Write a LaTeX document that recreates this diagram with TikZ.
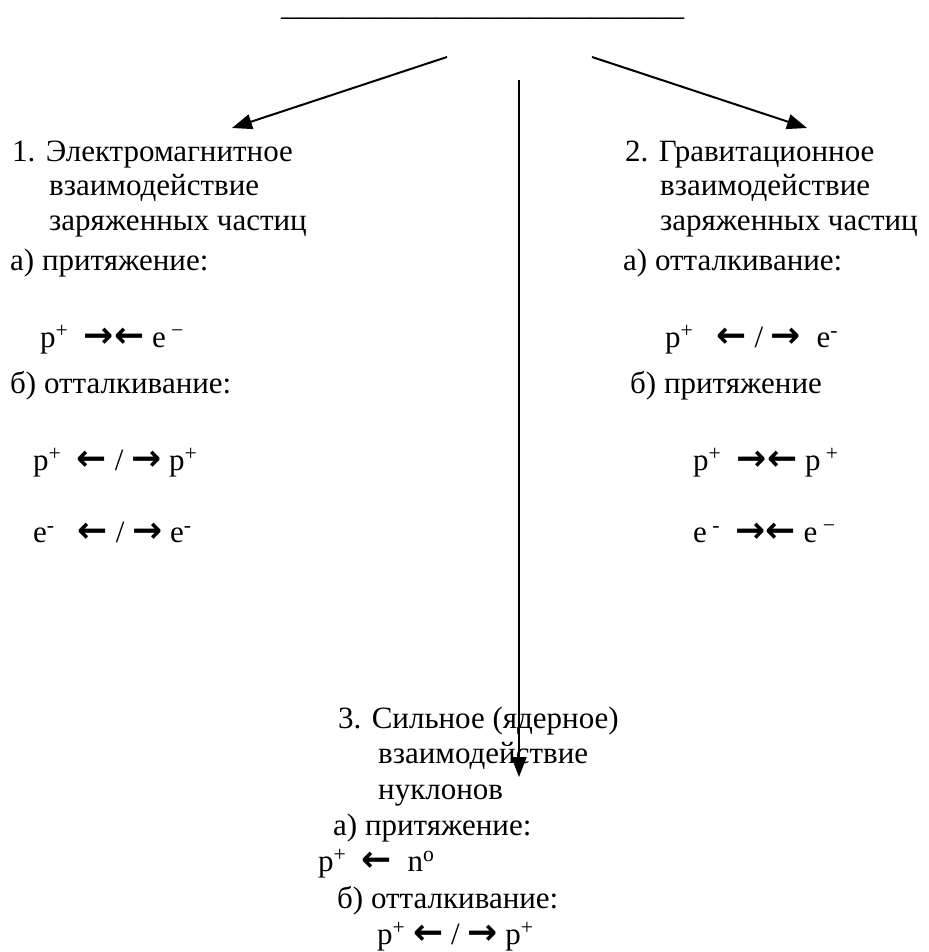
\documentclass[tikz,border=0pt]{standalone}
\usepackage{fontspec}
\setmainfont{Liberation Serif}
\newfontfamily\arrfont{DejaVu Sans}
\usetikzlibrary{arrows.meta}
\newcommand{\arR}{{\arrfont\bfseries\fontsize{36}{36}\selectfont →}}
\newcommand{\arL}{{\arrfont\bfseries\fontsize{36}{36}\selectfont ←}}
\tikzset{
  ln/.style={anchor=base west,inner sep=0pt,font=\fontsize{31}{36}\selectfont},
  ar/.style={-{Triangle[length=20pt,width=15pt]},line width=2pt}
}
\begin{document}
\begin{tikzpicture}[x=1pt,y=-1pt]
\useasboundingbox (0,0) rectangle (928,952);
\node[ln] (title) at (281,16) {\_\_\_\_\_\_\_\_\_\_\_\_\_\_\_\_\_\_\_\_\_\_\_\_\_\_};
% 1: electromagnetic
\node[ln] (em1) at (12,161) {1. Электромагнитное};
\node[ln] (em2) at (49,195) {взаимодействие};
\node[ln] (em3) at (49,230) {заряженных частиц};
\node[ln] (ema) at (10,270) {а) притяжение:};
\node[ln] (emap) at (40,347) {p\textsuperscript{+} \ \arR\arL{} e\textsuperscript{ −}};
\node[ln] (emb) at (10,393) {б) отталкивание:};
\node[ln] (embp) at (33,470) {p\textsuperscript{+} \ \arL{} / \arR{} p\textsuperscript{+}};
\node[ln] (embe) at (33,542) {e\textsuperscript{-} \ \ \arL{} / \arR{} e\textsuperscript{-}};
% 2: gravitational
\node[ln] (gr1) at (625,161) {2. Гравитационное};
\node[ln] (gr2) at (660,195) {взаимодействие};
\node[ln] (gr3) at (660,230) {заряженных частиц};
\node[ln] (gra) at (623,270) {а) отталкивание:};
\node[ln] (grap) at (665,347) {p\textsuperscript{+} \ \ \arL{} / \arR{} \ e\textsuperscript{-}};
\node[ln] (grb) at (630,393) {б) притяжение};
\node[ln] (grbp) at (693,470) {p\textsuperscript{+} \ \arR\arL{} p\textsuperscript{ +}};
\node[ln] (grbe) at (693,542) {e\textsuperscript{ -} \ \arR\arL{} e\textsuperscript{ −}};
% 3: strong
\node[ln] (st1) at (338,728) {3. Сильное (ядерное)};
\node[ln] (st2) at (378,763) {взаимодействие};
\node[ln] (st3) at (378,799) {нуклонов};
\node[ln] (sta) at (333,835) {а) притяжение:};
\node[ln] (stap) at (318,871) {p\textsuperscript{+} \ \arL{} \ n\textsuperscript{o}};
\node[ln] (stb) at (337,908) {б) отталкивание:};
\node[ln] (stbp) at (377,944) {p\textsuperscript{+} \arL{} / \arR{} p\textsuperscript{+}};
% arrows
\coordinate (s1) at (447,57);
\coordinate (t1) at (232,128);
\coordinate (s2) at (592,57);
\coordinate (t2) at (807,128);
\coordinate (s3) at (519,80);
\coordinate (t3) at (519,777);
\draw[ar] (s1) -- (t1);
\draw[ar] (s2) -- (t2);
\draw[ar,line width=1.8pt] (s3) -- (t3);
\end{tikzpicture}
\end{document}
